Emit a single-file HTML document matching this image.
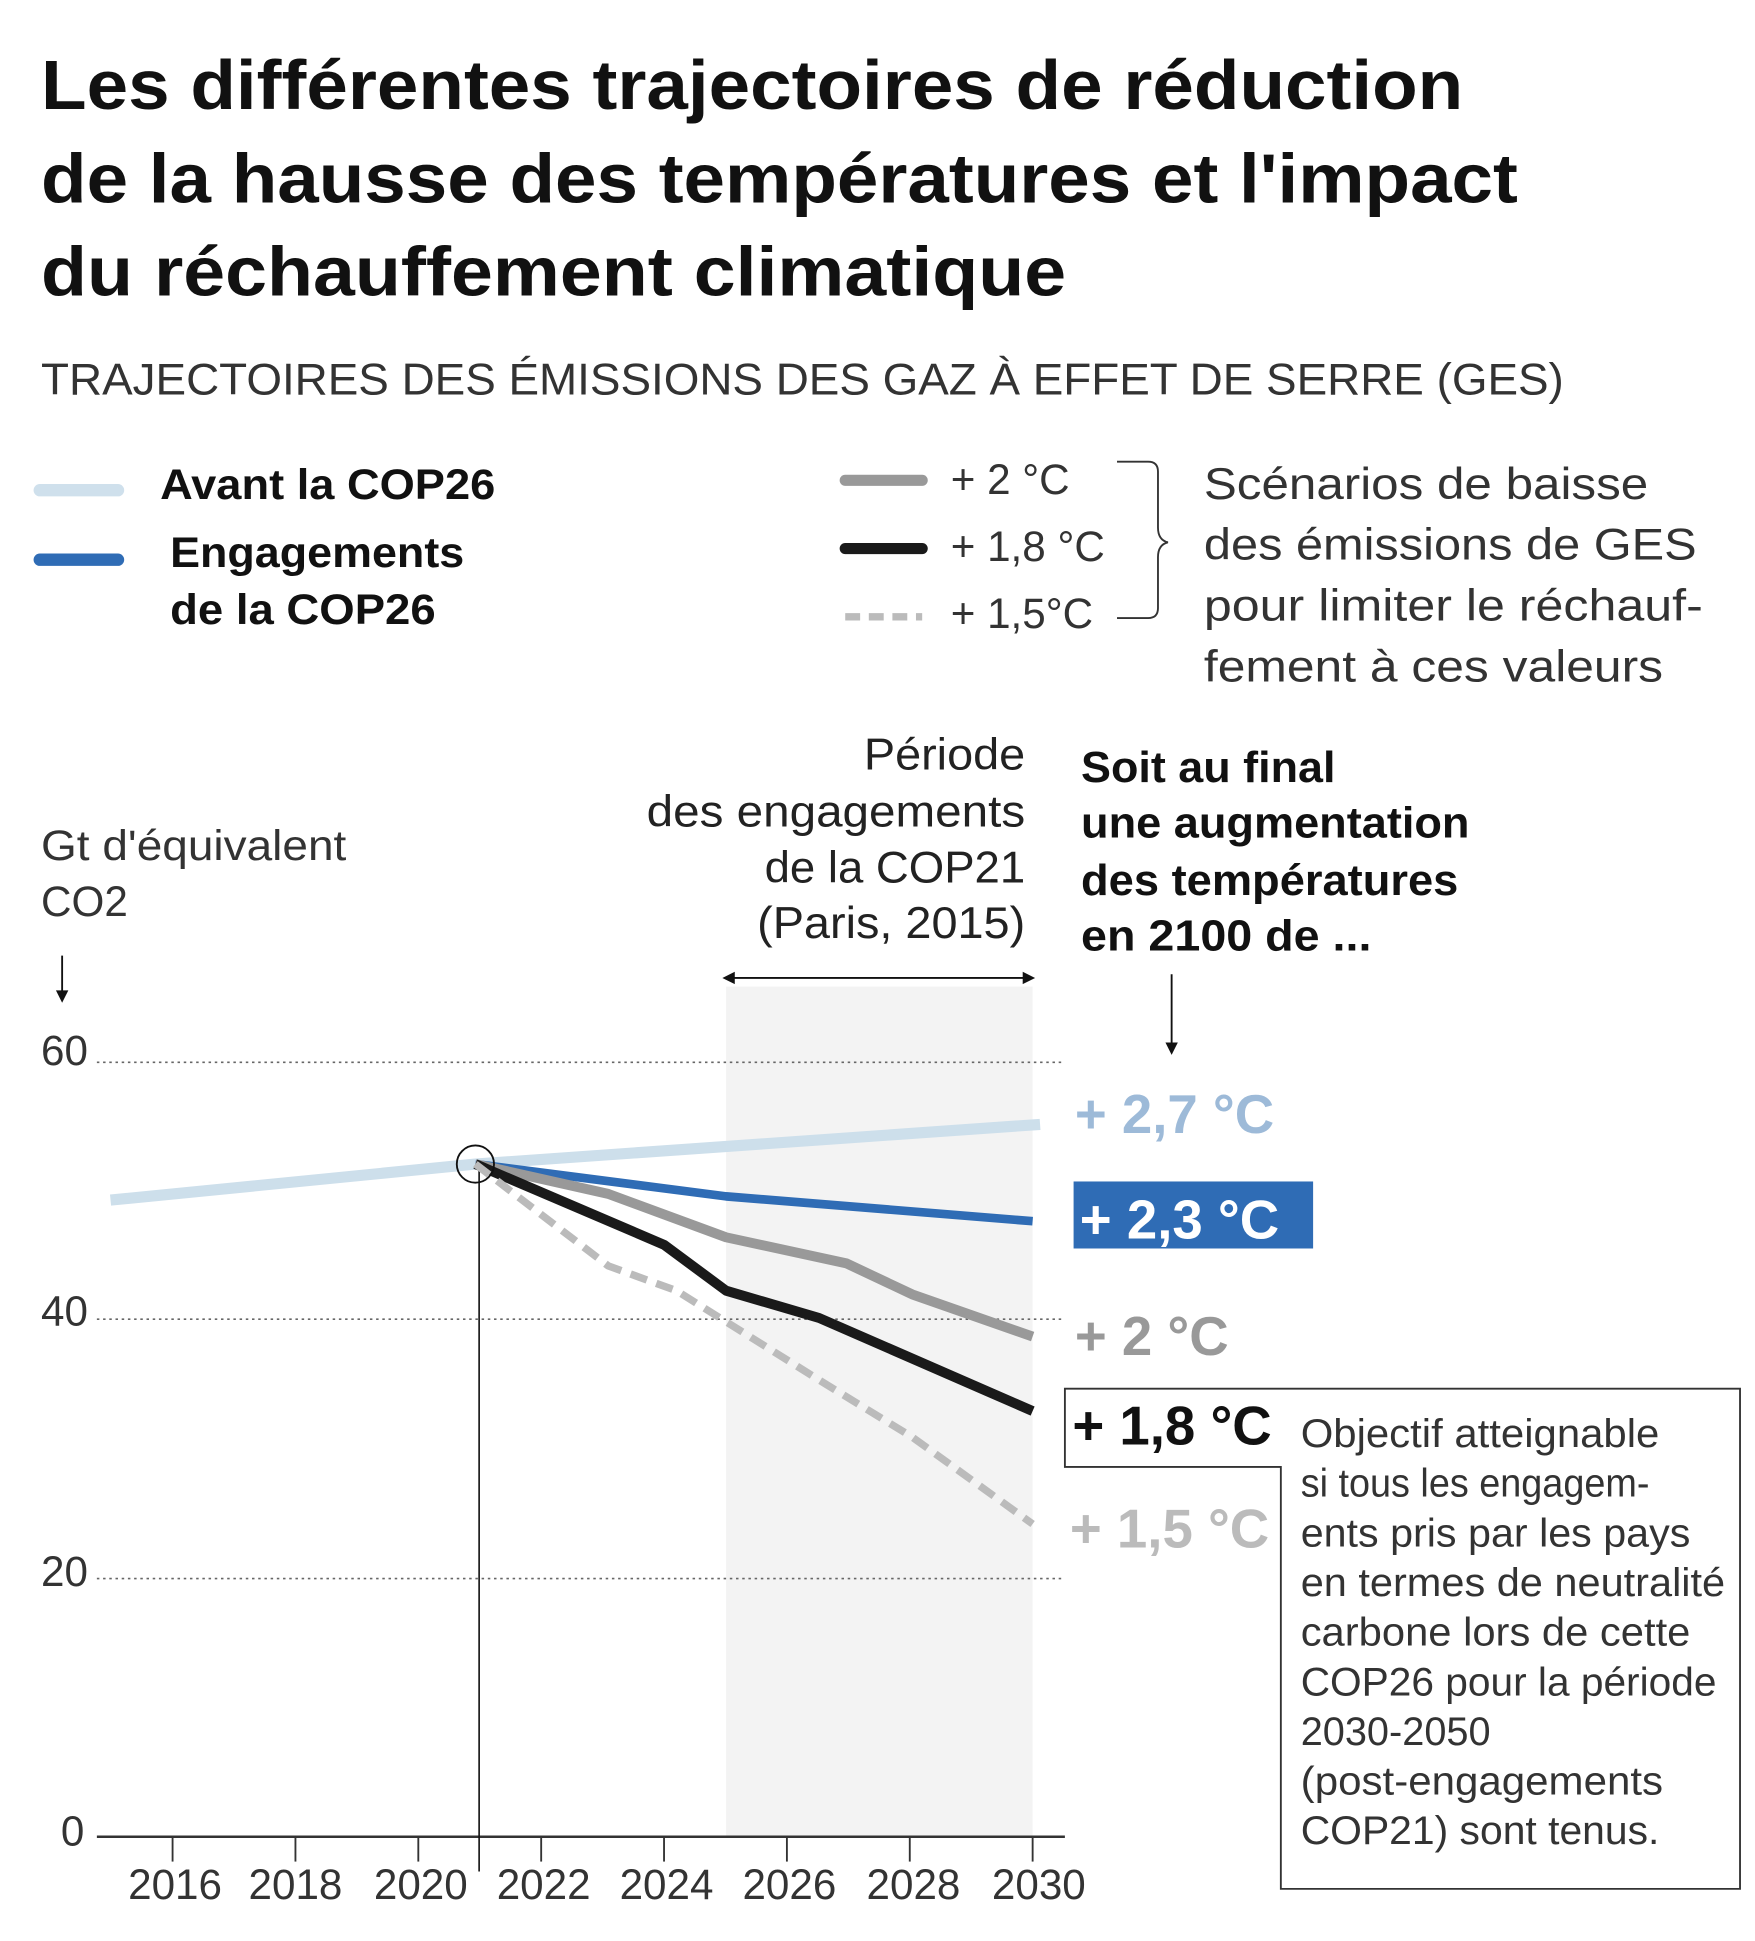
<!DOCTYPE html>
<html><head><meta charset="utf-8"><style>html,body{margin:0;padding:0;background:#fff}svg{display:block}</style></head>
<body>
<svg width="1755" height="1941" viewBox="0 0 1414 1564" xmlns="http://www.w3.org/2000/svg" font-family="Liberation Sans, sans-serif">
<g font-weight="bold" font-size="56" fill="#111">
<text x="33" y="88" textLength="1146" lengthAdjust="spacingAndGlyphs">Les différentes trajectoires de réduction</text>
<text x="33" y="163" textLength="1190" lengthAdjust="spacingAndGlyphs">de la hausse des températures et l'impact</text>
<text x="33" y="238" textLength="826" lengthAdjust="spacingAndGlyphs">du réchauffement climatique</text>
</g>
<text x="33" y="318" font-size="36" fill="#333" textLength="1227" lengthAdjust="spacingAndGlyphs">TRAJECTOIRES DES ÉMISSIONS DES GAZ À EFFET DE SERRE (GES)</text>
<line x1="32" y1="395" x2="95" y2="395" stroke="#cfe0ec" stroke-width="10" stroke-linecap="round"/>
<line x1="32" y1="451" x2="95" y2="451" stroke="#2f6cb5" stroke-width="10" stroke-linecap="round"/>
<g font-weight="bold" font-size="34" fill="#111">
<text x="129" y="402" textLength="270" lengthAdjust="spacingAndGlyphs">Avant la COP26</text>
<text x="137" y="457" textLength="237" lengthAdjust="spacingAndGlyphs">Engagements</text>
<text x="137" y="503" textLength="214" lengthAdjust="spacingAndGlyphs">de la COP26</text>
</g>
<line x1="681" y1="387" x2="743" y2="387" stroke="#999" stroke-width="9" stroke-linecap="round"/>
<line x1="681" y1="442" x2="743" y2="442" stroke="#1a1a1a" stroke-width="9" stroke-linecap="round"/>
<line x1="681" y1="497" x2="743" y2="497" stroke="#bbb" stroke-width="6" stroke-dasharray="12 7"/>
<g font-size="34" fill="#333">
<text x="766" y="398">+ 2 °C</text>
<text x="766" y="452">+ 1,8 °C</text>
<text x="766" y="506">+ 1,5°C</text>
</g>
<path d="M900 372 H925 Q933 372 933 380 V425 Q933 435 941 437 Q933 439 933 449 V490 Q933 498 925 498 H900" fill="none" stroke="#333" stroke-width="1.5"/>
<g font-size="36" fill="#333">
<text x="970" y="402" textLength="358" lengthAdjust="spacingAndGlyphs">Scénarios de baisse</text>
<text x="970" y="451" textLength="397" lengthAdjust="spacingAndGlyphs">des émissions de GES</text>
<text x="970" y="500" textLength="402" lengthAdjust="spacingAndGlyphs">pour limiter le réchauf-</text>
<text x="970" y="549" textLength="370" lengthAdjust="spacingAndGlyphs">fement à ces valeurs</text>
</g>
<g font-size="36" fill="#222" text-anchor="end">
<text x="826" y="620" textLength="130" lengthAdjust="spacingAndGlyphs">Période</text>
<text x="826" y="666" textLength="305" lengthAdjust="spacingAndGlyphs">des engagements</text>
<text x="826" y="711" textLength="210" lengthAdjust="spacingAndGlyphs">de la COP21</text>
<text x="826" y="756" textLength="216" lengthAdjust="spacingAndGlyphs">(Paris, 2015)</text>
</g>
<g font-size="35" font-weight="bold" fill="#111">
<text x="871" y="630" textLength="205" lengthAdjust="spacingAndGlyphs">Soit au final</text>
<text x="871" y="675" textLength="313" lengthAdjust="spacingAndGlyphs">une augmentation</text>
<text x="871" y="721" textLength="304" lengthAdjust="spacingAndGlyphs">des températures</text>
<text x="871" y="766" textLength="234" lengthAdjust="spacingAndGlyphs">en 2100 de ...</text>
</g>
<line x1="944" y1="785" x2="944" y2="842" stroke="#111" stroke-width="1.5"/>
<path d="M939 840 L944 850 L949 840 Z" fill="#111"/>
<g font-size="34" fill="#333">
<text x="33" y="693" textLength="246" lengthAdjust="spacingAndGlyphs">Gt d'équivalent</text>
<text x="33" y="738">CO2</text>
</g>
<line x1="50" y1="770" x2="50" y2="800" stroke="#111" stroke-width="1.5"/>
<path d="M45 798 L50 808 L55 798 Z" fill="#111"/>
<rect x="585" y="795" width="247" height="685" fill="#f3f3f3"/>
<line x1="590" y1="788" x2="826" y2="788" stroke="#111" stroke-width="1.5"/>
<path d="M592 783 L582 788 L592 793 Z M824 783 L834 788 L824 793 Z" fill="#111"/>
<g stroke="#666" stroke-width="1.3" stroke-dasharray="2 3">
<line x1="78" y1="856" x2="858" y2="856"/>
<line x1="78" y1="1063" x2="858" y2="1063"/>
<line x1="78" y1="1272" x2="858" y2="1272"/>
</g>
<line x1="78" y1="1480" x2="858" y2="1480" stroke="#333" stroke-width="2"/>
<g stroke="#333" stroke-width="1.5">
<line x1="139" y1="1480" x2="139" y2="1500"/><line x1="238" y1="1480" x2="238" y2="1500"/>
<line x1="337" y1="1480" x2="337" y2="1500"/><line x1="436" y1="1480" x2="436" y2="1500"/>
<line x1="535" y1="1480" x2="535" y2="1500"/><line x1="634" y1="1480" x2="634" y2="1500"/>
<line x1="733" y1="1480" x2="733" y2="1500"/><line x1="832" y1="1480" x2="832" y2="1500"/>
</g>
<g font-size="34" fill="#333" text-anchor="middle">
<text x="141" y="1530">2016</text><text x="238" y="1530">2018</text><text x="339" y="1530">2020</text>
<text x="438" y="1530">2022</text><text x="537" y="1530">2024</text><text x="636" y="1530">2026</text>
<text x="736" y="1530">2028</text><text x="837" y="1530">2030</text>
</g>
<g font-size="34" fill="#333">
<text x="33" y="858">60</text><text x="33" y="1068">40</text><text x="33" y="1278">20</text><text x="49" y="1487">0</text>
</g>
<line x1="386" y1="938" x2="386" y2="1508" stroke="#111" stroke-width="1.3"/>
<g fill="none" stroke-linejoin="round">
<polyline points="89,967 383,938 838,906" stroke="#cddfeb" stroke-width="9"/>
<polyline points="383,938 585,964 832,984" stroke="#2f6cb5" stroke-width="7"/>
<polyline points="383,938 490,962 585,997 682,1018 735,1043 832,1077" stroke="#999" stroke-width="8"/>
<polyline points="383,938 535,1003 585,1040 660,1062 832,1137" stroke="#1a1a1a" stroke-width="8"/>
<polyline points="383,938 490,1020 545,1040 660,1112 735,1158 832,1228" stroke="#bbb" stroke-width="6" stroke-dasharray="14 8"/>
</g>
<circle cx="383" cy="938" r="15" fill="none" stroke="#111" stroke-width="1.5"/>
<g font-weight="bold" font-size="44">
<text x="866" y="913" fill="#9dbad8">+ 2,7 °C</text>
<rect x="865" y="952" width="193" height="54" fill="#2f6cb5"/>
<text x="870" y="998" fill="#fff">+ 2,3 °C</text>
<text x="866" y="1092" fill="#999">+ 2 °C</text>
</g>
<polygon points="858,1119 1402,1119 1402,1522 1032,1522 1032,1182 858,1182" fill="#fff" stroke="#333" stroke-width="1.5"/>
<g font-weight="bold" font-size="44">
<text x="864" y="1164" fill="#111">+ 1,8 °C</text>
<text x="862" y="1247" fill="#bbb">+ 1,5 °C</text>
</g>
<g font-size="32" fill="#333">
<text x="1048" y="1166" textLength="289" lengthAdjust="spacingAndGlyphs">Objectif atteignable</text>
<text x="1048" y="1206" textLength="281" lengthAdjust="spacingAndGlyphs">si tous les engagem-</text>
<text x="1048" y="1246" textLength="314" lengthAdjust="spacingAndGlyphs">ents pris par les pays</text>
<text x="1048" y="1286" textLength="342" lengthAdjust="spacingAndGlyphs">en termes de neutralité</text>
<text x="1048" y="1326" textLength="314" lengthAdjust="spacingAndGlyphs">carbone lors de cette</text>
<text x="1048" y="1366" textLength="335" lengthAdjust="spacingAndGlyphs">COP26 pour la période</text>
<text x="1048" y="1406">2030-2050</text>
<text x="1048" y="1446" textLength="292" lengthAdjust="spacingAndGlyphs">(post-engagements</text>
<text x="1048" y="1486" textLength="289" lengthAdjust="spacingAndGlyphs">COP21) sont tenus.</text>
</g>
</svg>
</body></html>
